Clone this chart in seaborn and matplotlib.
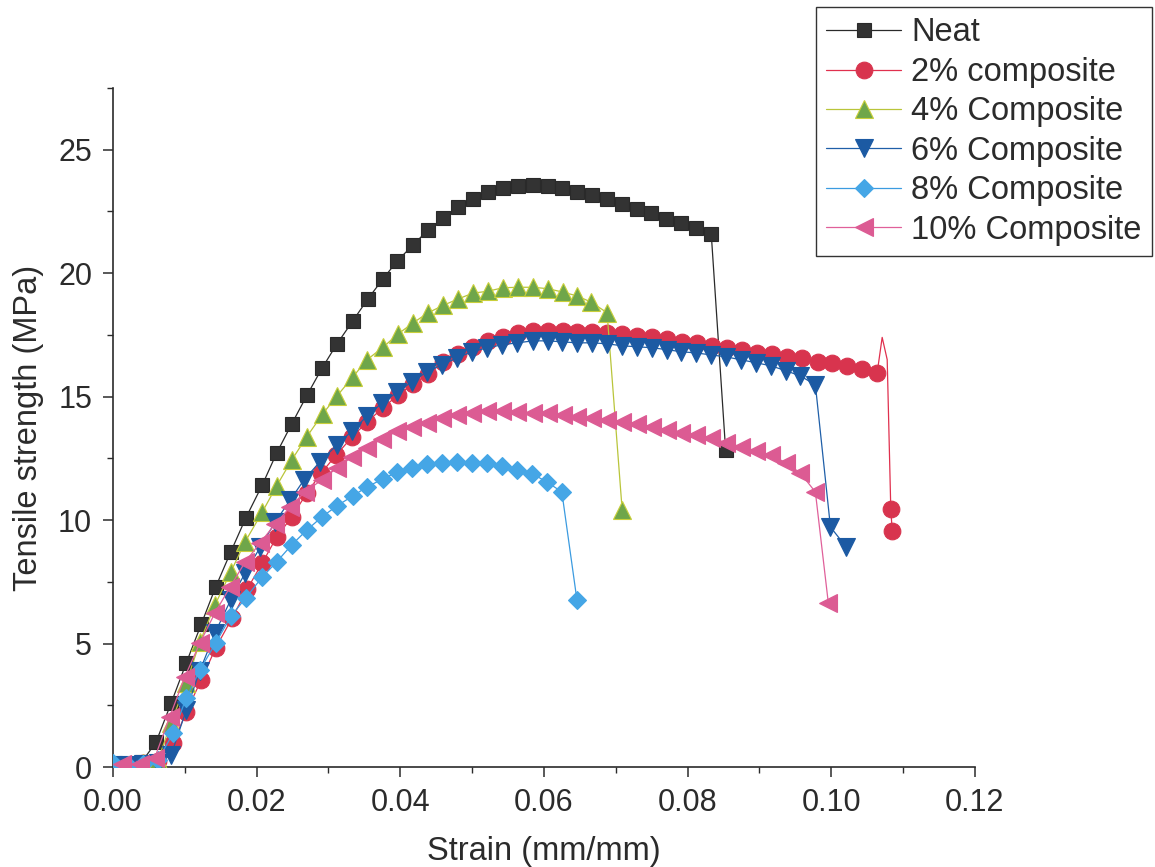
import matplotlib
matplotlib.use("Agg")
import matplotlib.pyplot as plt
from matplotlib.ticker import MultipleLocator, FormatStrFormatter
import numpy as np
import pandas as pd
import seaborn as sns

# ---------------- data ----------------
labels = ["Neat", "2% composite", "4% Composite", "6% Composite",
          "8% Composite", "10% Composite"]

neat_strain = [0.0000, 0.0020, 0.0040, 0.0060, 0.0081, 0.0102, 0.0123, 0.0143, 0.0164,
               0.0185, 0.0208, 0.0228, 0.0249, 0.0270, 0.0291, 0.0312, 0.0334, 0.0355,
               0.0376, 0.0396, 0.0418, 0.0439, 0.0460, 0.0480, 0.0501, 0.0522, 0.0543,
               0.0564, 0.0585, 0.0606, 0.0625, 0.0646, 0.0667, 0.0688, 0.0709, 0.0730,
               0.0749, 0.0770, 0.0791, 0.0812, 0.0833, 0.0853]
neat_stress = [0.10, 0.12, 0.20, 1.01, 2.59, 4.21, 5.79, 7.29, 8.71, 10.09, 11.43, 12.72,
               13.90, 15.05, 16.15, 17.14, 18.07, 18.96, 19.77, 20.50, 21.15, 21.76, 22.24,
               22.69, 23.01, 23.30, 23.46, 23.54, 23.58, 23.54, 23.46, 23.30, 23.18, 23.01,
               22.81, 22.61, 22.45, 22.20, 22.04, 21.84, 21.60, 12.85]

c2_strain = [0.0000, 0.0021, 0.0042, 0.0063, 0.0084, 0.0102, 0.0123, 0.0143, 0.0166,
             0.0187, 0.0208, 0.0228, 0.0249, 0.0270, 0.0290, 0.0311, 0.0333, 0.0354,
             0.0376, 0.0397, 0.0418, 0.0439, 0.0460, 0.0480, 0.0501, 0.0522, 0.0543,
             0.0564, 0.0585, 0.0606, 0.0627, 0.0646, 0.0667, 0.0688, 0.0709, 0.0730,
             0.0751, 0.0772, 0.0792, 0.0813, 0.0834, 0.0855, 0.0876, 0.0897, 0.0918,
             0.0939, 0.0960, 0.0981, 0.1001, 0.1022, 0.1043, 0.1064, 0.1071, 0.1078,
             0.1083, 0.1085]
c2_stress = [0.10, 0.10, 0.15, 0.25, 0.97, 2.23, 3.53, 4.82, 6.04, 7.21, 8.27, 9.32,
             10.13, 11.10, 11.91, 12.64, 13.37, 13.98, 14.55, 15.07, 15.52, 15.92, 16.41,
             16.73, 17.02, 17.26, 17.42, 17.59, 17.67, 17.67, 17.67, 17.63, 17.62, 17.59,
             17.54, 17.46, 17.42, 17.34, 17.22, 17.18, 17.06, 16.98, 16.90, 16.77, 16.73,
             16.61, 16.57, 16.41, 16.37, 16.25, 16.13, 15.96, 17.40, 16.50, 10.45, 9.55]
# recorded points of the 2% curve that carry no symbol (line only)
c2_unmarked = [52, 53]

c4_strain = [0.0000, 0.0021, 0.0042, 0.0063, 0.0081, 0.0102, 0.0121, 0.0142, 0.0164,
             0.0184, 0.0208, 0.0228, 0.0249, 0.0270, 0.0292, 0.0312, 0.0334, 0.0354,
             0.0376, 0.0397, 0.0418, 0.0439, 0.0460, 0.0480, 0.0501, 0.0522, 0.0543,
             0.0564, 0.0585, 0.0606, 0.0627, 0.0646, 0.0665, 0.0688, 0.0709]
c4_stress = [0.10, 0.10, 0.15, 0.30, 1.80, 3.40, 5.06, 6.56, 7.90, 9.12, 10.33, 11.39,
             12.44, 13.38, 14.30, 15.03, 15.80, 16.50, 17.00, 17.54, 17.99, 18.40, 18.70,
             18.95, 19.19, 19.27, 19.41, 19.43, 19.43, 19.37, 19.23, 19.08, 18.84, 18.40,
             10.41]

c6_strain = [0.0000, 0.0021, 0.0042, 0.0063, 0.0081, 0.0102, 0.0121, 0.0142, 0.0164,
             0.0184, 0.0205, 0.0226, 0.0247, 0.0266, 0.0288, 0.0312, 0.0333, 0.0354,
             0.0375, 0.0396, 0.0416, 0.0437, 0.0458, 0.0479, 0.0500, 0.0521, 0.0542,
             0.0563, 0.0585, 0.0606, 0.0625, 0.0646, 0.0667, 0.0688, 0.0709, 0.0730,
             0.0751, 0.0772, 0.0791, 0.0812, 0.0833, 0.0854, 0.0875, 0.0896, 0.0916,
             0.0937, 0.0957, 0.0978, 0.0999, 0.1021]
c6_stress = [0.10, 0.10, 0.12, 0.15, 0.49, 2.30, 3.90, 5.43, 6.77, 7.86, 8.90, 9.93,
             10.82, 11.63, 12.36, 13.05, 13.61, 14.22, 14.75, 15.19, 15.60, 16.00, 16.29,
             16.57, 16.82, 16.98, 17.10, 17.18, 17.26, 17.26, 17.22, 17.18, 17.18, 17.14,
             17.06, 17.02, 16.98, 16.90, 16.82, 16.77, 16.69, 16.61, 16.49, 16.37, 16.25,
             16.05, 15.84, 15.48, 9.72, 8.91]

c8_strain = [0.0000, 0.0021, 0.0042, 0.0063, 0.0084, 0.0102, 0.0121, 0.0143, 0.0164,
             0.0185, 0.0208, 0.0228, 0.0249, 0.0270, 0.0291, 0.0312, 0.0334, 0.0354,
             0.0376, 0.0396, 0.0416, 0.0437, 0.0458, 0.0479, 0.0500, 0.0521, 0.0542,
             0.0563, 0.0584, 0.0604, 0.0625, 0.0646]
c8_stress = [0.15, 0.10, 0.12, 0.30, 1.38, 2.80, 3.93, 5.02, 6.10, 6.85, 7.70, 8.31,
             9.00, 9.60, 10.13, 10.58, 10.98, 11.35, 11.67, 11.95, 12.12, 12.28, 12.32,
             12.36, 12.32, 12.32, 12.20, 12.03, 11.87, 11.55, 11.14, 6.77]

c10_strain = [0.0013, 0.0038, 0.0058, 0.0079, 0.0100, 0.0121, 0.0142, 0.0163, 0.0184,
              0.0205, 0.0226, 0.0247, 0.0267, 0.0291, 0.0312, 0.0333, 0.0354, 0.0375,
              0.0396, 0.0416, 0.0437, 0.0458, 0.0479, 0.0500, 0.0521, 0.0542, 0.0563,
              0.0585, 0.0606, 0.0627, 0.0646, 0.0667, 0.0688, 0.0709, 0.0730, 0.0751,
              0.0772, 0.0791, 0.0812, 0.0833, 0.0854, 0.0875, 0.0896, 0.0916, 0.0937,
              0.0957, 0.0978, 0.0996]
c10_stress = [0.12, 0.12, 0.36, 2.03, 3.65, 5.02, 6.24, 7.29, 8.30, 9.08, 9.85, 10.53,
              11.14, 11.63, 12.12, 12.56, 12.93, 13.30, 13.60, 13.78, 13.94, 14.14, 14.26,
              14.34, 14.42, 14.42, 14.38, 14.34, 14.34, 14.26, 14.18, 14.14, 14.06, 13.98,
              13.90, 13.78, 13.65, 13.53, 13.45, 13.33, 13.13, 12.97, 12.80, 12.64, 12.32,
              11.91, 11.14, 6.65]

x_ticks = [0.00, 0.02, 0.04, 0.06, 0.08, 0.10, 0.12]
y_ticks = [0, 5, 10, 15, 20, 25]

# ---------------- style ----------------
sns.set_style("ticks")
plt.rcParams['font.family'] = ['Liberation Sans', 'DejaVu Sans']
txt = "#2b2b2b"

fig = plt.figure(figsize=(11.55, 8.67), dpi=100)
ax = fig.add_axes([0.0978, 0.1153, 0.7462, 0.7832])

styles = [
    # line colour, marker, size, face, edge
    ("#2a2a2a", "s", 10.0, "#333333", "#2a2a2a"),
    ("#e0304e", "o", 12.0, "#d8344e", "#d8344e"),
    ("#b9c53a", "^", 12.5, "#6fa64a", "#c9cf3a"),
    ("#1f5fa8", "v", 12.5, "#1c5aa3", "#1c5aa3"),
    ("#3b9be0", "D", 9.0, "#45a6e6", "#45a6e6"),
    ("#e0609a", "<", 12.5, "#dc5b93", "#dc5b93"),
]
series = [(neat_strain, neat_stress), (c2_strain, c2_stress), (c4_strain, c4_stress),
          (c6_strain, c6_stress), (c8_strain, c8_stress), (c10_strain, c10_stress)]

for i, ((sx, sy), lab, (lc, mk, ms, fc, ec)) in enumerate(zip(series, labels, styles)):
    df = pd.DataFrame({"strain": sx, "stress": sy})
    mev = None
    if i == 1:
        mev = [k for k in range(len(sx)) if k not in c2_unmarked]
    sns.lineplot(data=df, x="strain", y="stress", ax=ax, sort=False, estimator=None,
                 color=lc, linewidth=0.9, marker=mk, markersize=ms,
                 markerfacecolor=fc, markeredgecolor=ec, markeredgewidth=0.8,
                 markevery=mev, label=lab, zorder=3 + i)

ax.set_xlim(0, 0.12)
ax.set_ylim(0, 27.5)
ax.set_xticks(x_ticks)
ax.set_yticks(y_ticks)
ax.xaxis.set_major_formatter(FormatStrFormatter("%.2f"))
ax.xaxis.set_minor_locator(MultipleLocator(0.01))
ax.yaxis.set_minor_locator(MultipleLocator(2.5))
ax.tick_params(axis="both", which="major", direction="out", length=7, width=1.1,
               labelsize=22, colors=txt, pad=8)
ax.tick_params(axis="both", which="minor", direction="out", length=4, width=1.0,
               colors=txt)
for side in ["top", "right"]:
    ax.spines[side].set_visible(False)
for side in ["left", "bottom"]:
    ax.spines[side].set_linewidth(1.2)
    ax.spines[side].set_color(txt)

ax.set_xlabel("Strain (mm/mm)", fontsize=23.5, color=txt, labelpad=13)
ax.set_ylabel("Tensile strength (MPa)", fontsize=23.5, color=txt, labelpad=10)

handles, labs = ax.get_legend_handles_labels()
leg = ax.legend(handles, labs, loc="upper right",
                bbox_to_anchor=(1152 / 1155, 1 - 7 / 867), bbox_transform=fig.transFigure,
                fontsize=23.5, frameon=True, fancybox=False, framealpha=1,
                edgecolor="#333333", handlelength=2.3, handletextpad=0.3,
                labelspacing=0.26, borderpad=0.32, borderaxespad=0, numpoints=1)
leg.get_frame().set_linewidth(1.0)
for t in leg.get_texts():
    t.set_color(txt)

fig.savefig("out.png", dpi=100)
